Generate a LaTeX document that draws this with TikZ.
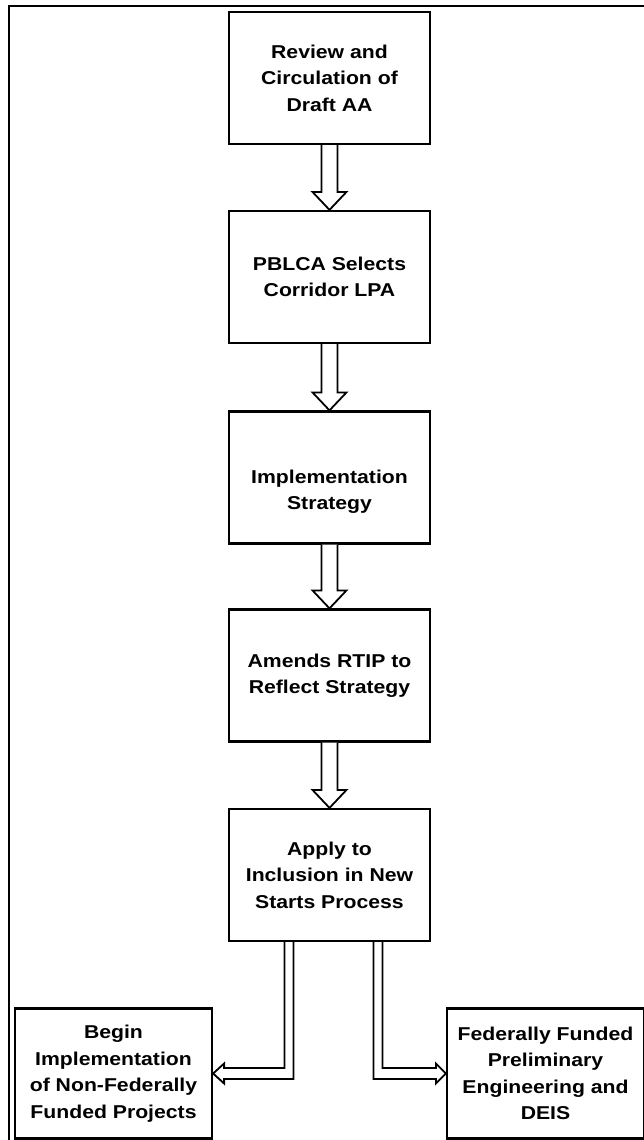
\documentclass[tikz,border=0pt]{standalone}
\usepackage{fontspec}
\setmainfont{Liberation Sans}[FakeStretch=1.14]
\usetikzlibrary{calc}
\begin{document}
\begin{tikzpicture}[x=1pt,y=-1pt,
  boxtext/.style={align=center, inner sep=0pt, font=\fontsize{18.6}{26.5}\selectfont\bfseries},
  box/.style={boxtext, draw, line width=2.2pt, minimum width=201pt, minimum height=132pt},
  sidebox/.style={boxtext, draw, line width=2.2pt, minimum width=197pt, minimum height=130pt},
  arr/.style={draw, fill=white, line width=1.8pt, line join=miter},
  frame/.style={draw, line width=1.6pt}]
\useasboundingbox (0,0) rectangle (644,1140);
% outer frame
\coordinate (ftr) at (644,6);
\coordinate (ftl) at (9,6);
\coordinate (fbl) at (9,1140);
\draw[frame] (ftr) -- (ftl) -- (fbl);
% main boxes
\node[box] (b1) at (329.5,78) {Review and\\Circulation of\\Draft AA};
\node[box] (b2) at (329.5,277) {PBLCA Selects\\Corridor LPA};
\node[box] (b3) at (329.5,477.5) {};
\node[boxtext] (t3) at ([yshift=-14pt]b3.center) {Implementation\\Strategy};
\node[box] (b4) at (329.5,675.5) {Amends RTIP to\\Reflect Strategy};
\node[box] (b5) at (329.5,875) {Apply to\\Inclusion in New\\Starts Process};
\node[sidebox] (L) at (113.5,1073.5) {Begin\\Implementation\\of Non-Federally\\Funded Projects};
\node[sidebox] (R) at (545.5,1073.5) {Federally Funded\\Preliminary\\Engineering and\\DEIS};
% vertical block arrows
\foreach \a/\b in {b1/b2, b2/b3, b3/b4, b4/b5} {
  \draw[arr] ($(\a.south)+(-8,0)$) -- ($(\b.north)+(-8,-18)$) -- ($(\b.north)+(-17,-18)$)
    -- (\b.north) -- ($(\b.north)+(17,-18)$) -- ($(\b.north)+(8,-18)$) -- ($(\a.south)+(8,0)$);
}
% branch arrows
\draw[arr] ($(b5.south)+(-45,0)$) |- ($(L.east)+(11,-5.5)$) -- ($(L.east)+(11,-10)$) -- (L.east)
  -- ($(L.east)+(11,10)$) -- ($(L.east)+(11,5.5)$) -| ($(b5.south)+(-36,0)$);
\draw[arr] ($(b5.south)+(44,0)$) |- ($(R.west)+(-10,5.5)$) -- ($(R.west)+(-10,10)$) -- (R.west)
  -- ($(R.west)+(-10,-10)$) -- ($(R.west)+(-10,-5.5)$) -| ($(b5.south)+(53,0)$);
\end{tikzpicture}
\end{document}
